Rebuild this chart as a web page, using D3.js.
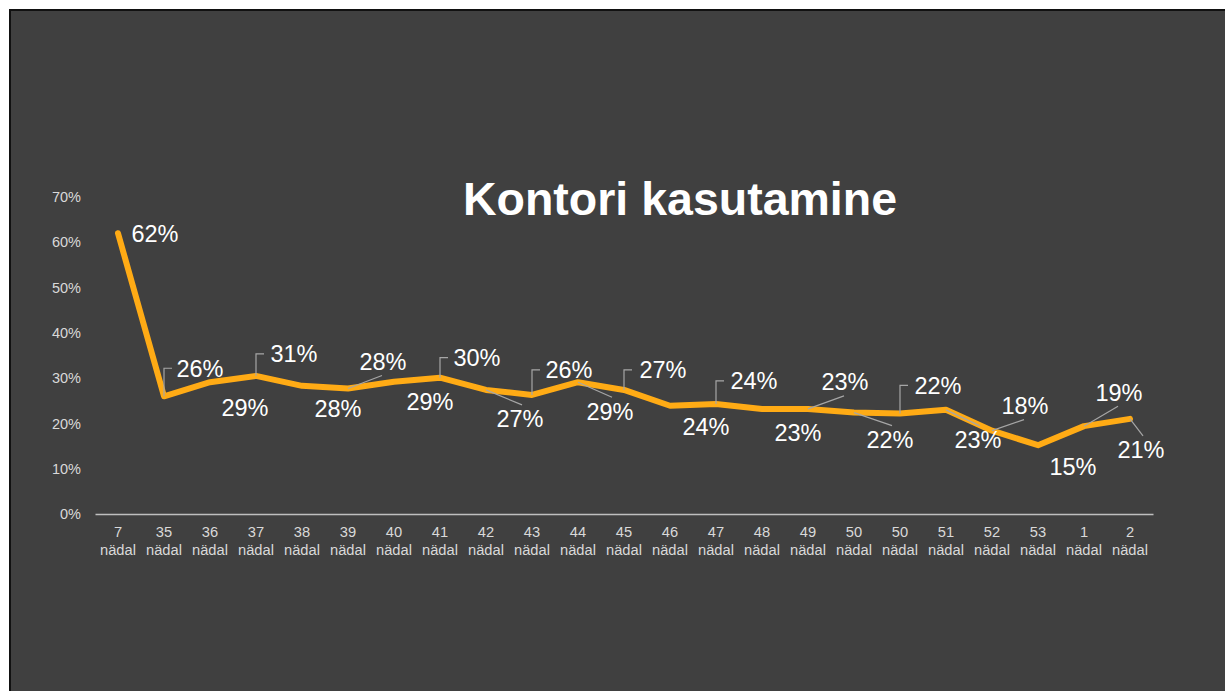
<!DOCTYPE html>
<html>
<head>
<meta charset="utf-8">
<script src="https://cdn.jsdelivr.net/npm/d3@7"></script>
<style>
  html, body { margin: 0; padding: 0; background: #fff; }
  svg { display: block; font-family: "Liberation Sans", Arial, sans-serif; }
</style>
</head>
<body>
<div id="chart"></div>
<script>
// week numbers (label is "<week>\nnädal")
const weeks = ["7", "35", "36", "37", "38", "39", "40", "41", "42", "43", "44", "45",
               "46", "47", "48", "49", "50", "50", "51", "52", "53", "1", "2"];
// office usage share
const usage = [0.62, 0.26, 0.291, 0.305, 0.283, 0.277, 0.292, 0.301, 0.274, 0.263, 0.291, 0.274,
               0.239, 0.243, 0.232, 0.232, 0.224, 0.222, 0.23, 0.184, 0.152, 0.194, 0.21];
const yTicks = [0, 0.1, 0.2, 0.3, 0.4, 0.5, 0.6, 0.7];

// label placement: offset of label centre from point, and leader style
const labelPos = [
  [37, 0, "none"], [36, -28, "elbow"], [35, 25, "none"], [38, -22, "elbow"],
  [36, 23, "none"], [35, -27, "line"], [36, 20, "none"], [37, -20, "elbow"],
  [34, 29, "line"], [37, -25, "elbow"], [32, 29, "line"], [39, -20, "elbow"],
  [36, 21, "none"], [38, -23, "elbow"], [36, 24, "none"], [37, -27, "line"],
  [36, 27, "line"], [38, -28, "elbow"], [32, 30, "line"], [33, -25, "line"],
  [35, 21, "none"], [35, -34, "line"], [11, 31, "line"]
];

const W = 1225, H = 691;
const svg = d3.select("#chart").append("svg")
  .attr("width", W).attr("height", H);

// slide background with dark border on top/left
svg.append("rect")
  .attr("x", 10).attr("y", 10)
  .attr("width", W).attr("height", H)
  .attr("fill", "#404040")
  .attr("stroke", "#111").attr("stroke-width", 2);

// title
svg.append("text")
  .attr("x", 680).attr("y", 215)
  .attr("text-anchor", "middle")
  .attr("fill", "#fff")
  .attr("font-size", 46.5)
  .attr("font-weight", "bold")
  .text("Kontori kasutamine");

const x = d3.scaleBand()
  .domain(d3.range(weeks.length))
  .range([95, 1153]);
const px = i => x(i) + x.bandwidth() / 2;

const y = d3.scaleLinear()
  .domain([0, 0.7])
  .range([514, 197]);

// y axis (labels only)
const yAxis = svg.append("g")
  .attr("transform", "translate(88,0)")
  .call(d3.axisLeft(y).tickValues(yTicks).tickFormat(d3.format(".0%")).tickSize(0).tickPadding(7));
yAxis.select(".domain").remove();
yAxis.selectAll("text")
  .attr("fill", "#d9d9d9")
  .attr("font-size", 14.5)
  .attr("font-family", "Liberation Sans, Arial, sans-serif");

// x axis
const xAxis = svg.append("g")
  .attr("transform", "translate(0,514)")
  .call(d3.axisBottom(x).tickSize(0).tickFormat(""));
xAxis.select(".domain")
  .attr("stroke", "#bfbfbf")
  .attr("stroke-width", 1.5);
xAxis.selectAll(".tick").each(function(i) {
  const t = d3.select(this).append("text")
    .attr("fill", "#d9d9d9")
    .attr("font-size", 14.7)
    .attr("font-family", "Liberation Sans, Arial, sans-serif")
    .attr("text-anchor", "middle");
  t.append("tspan").attr("x", 0).attr("y", 23).text(weeks[i]);
  t.append("tspan").attr("x", 0).attr("y", 41).text("nädal");
});

// the line
const line = d3.line()
  .x((d, i) => px(i))
  .y(d => y(d));

svg.append("path")
  .datum(usage)
  .attr("fill", "none")
  .attr("stroke", "#ffab15")
  .attr("stroke-width", 6)
  .attr("stroke-linejoin", "round")
  .attr("stroke-linecap", "round")
  .attr("d", line);

// leader lines
const fmt = d3.format(".0%");
const leaders = svg.append("g")
  .attr("fill", "none")
  .attr("stroke", "#a6a6a6")
  .attr("stroke-width", 1.2);

usage.forEach((v, i) => {
  const [dx, dy, kind] = labelPos[i];
  const x0 = px(i), y0 = y(v);
  const cx = x0 + dx, cy = y0 + dy;
  if (kind === "elbow") {
    leaders.append("path")
      .attr("d", `M${x0},${y0} V${cy} H${x0 + 8}`);
  } else if (kind === "line") {
    // end the leader near the label edge
    const ex = dy < 0 ? cx - 1 : cx + 2;
    const ey = dy < 0 ? cy + 14 : cy - 14;
    leaders.append("path")
      .attr("d", `M${x0},${y0} L${ex},${ey}`);
  }
});

// data labels
svg.append("g").selectAll("text")
  .data(usage)
  .join("text")
  .attr("x", (d, i) => px(i) + labelPos[i][0])
  .attr("y", (d, i) => y(d) + labelPos[i][1])
  .attr("dy", "0.36em")
  .attr("text-anchor", "middle")
  .attr("fill", "#fff")
  .attr("font-size", 23.5)
  .text(d => fmt(d));
</script>
</body>
</html>
